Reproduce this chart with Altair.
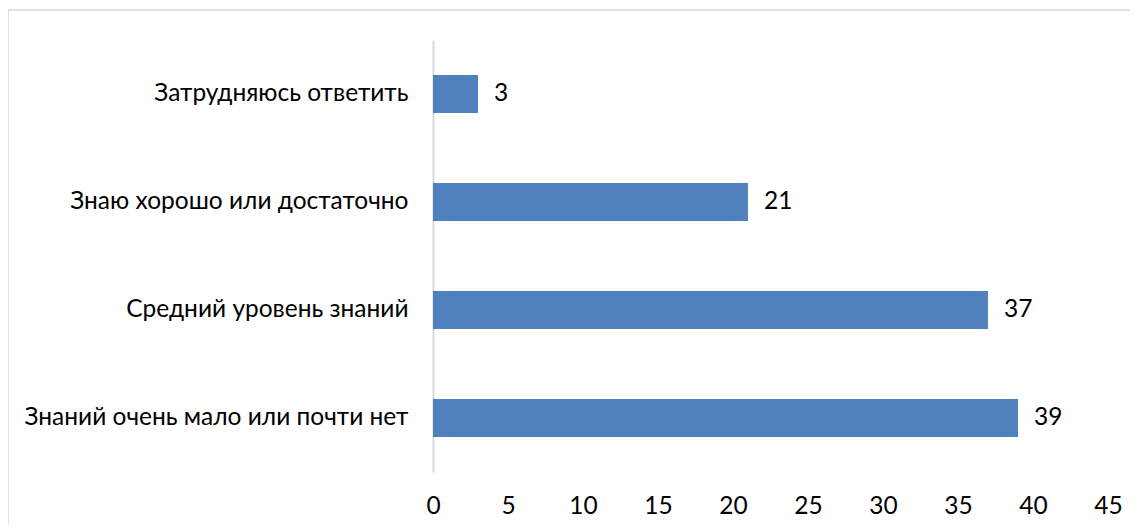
import altair as alt
import pandas as pd

categories = ["Затрудняюсь ответить", "Знаю хорошо или достаточно",
              "Средний уровень знаний", "Знаний очень мало или почти нет"]
values = [3, 21, 37, 39]
x_ticks = [0, 5, 10, 15, 20, 25, 30, 35, 40, 45]

df = pd.DataFrame({"cat": categories, "val": values})

FONT = "Lato"
FS = 24.5

x = alt.X("val:Q", scale=alt.Scale(domain=[0, 45], nice=False),
          axis=alt.Axis(values=x_ticks, title=None, domain=False, ticks=False,
                        grid=False, labelFontSize=FS, labelFont=FONT,
                        labelColor="#000000", labelPadding=22, labelFlush=False))
y = alt.Y("cat:N", sort=categories,
          scale=alt.Scale(paddingInner=0.648, paddingOuter=0.324),
          axis=alt.Axis(title=None, ticks=False, grid=False, domain=True,
                        domainColor="#d9d9d9", domainWidth=2,
                        labelFontSize=FS, labelFont=FONT, labelColor="#000000",
                        labelPadding=25, labelLimit=500))

bars = alt.Chart(df).mark_bar(color="#4f81bd").encode(x=x, y=y)
text = alt.Chart(df).mark_text(align="left", baseline="middle", dx=16,
                               font=FONT, fontSize=FS, color="#000000").encode(
    x="val:Q", y=alt.Y("cat:N", sort=categories), text="val:Q")

border = alt.Chart(pd.DataFrame({"a": [0]})).mark_rect(
    fill=None, stroke="#d9d9d9", strokeWidth=1.5, clip=False).encode(
    x=alt.value(-425), x2=alt.value(704), y=alt.value(-30), y2=alt.value(600))

chart = alt.layer(border, bars, text).properties(
    width=675, height=432,
    background="white",
    autosize=alt.AutoSizeParams(type="none"),
    padding={"left": 425, "top": 32, "right": 22, "bottom": 52},
).configure_view(strokeWidth=0, stroke=None)

chart.save("out.html", embed_options={"renderer": "svg", "actions": False})
